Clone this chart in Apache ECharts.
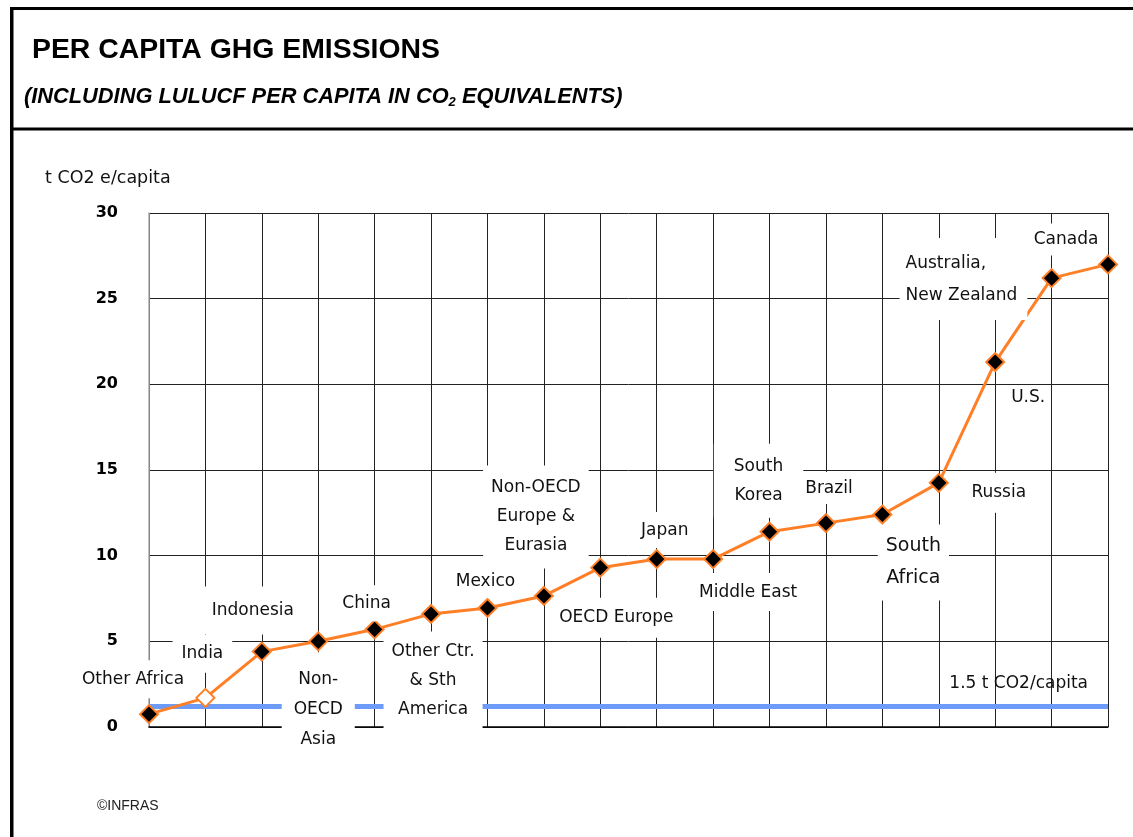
<!DOCTYPE html>
<html>
<head>
<meta charset="utf-8">
<script src="https://cdn.jsdelivr.net/npm/echarts@6/dist/echarts.min.js"></script>
<style>
  html, body { margin: 0; padding: 0; background: #fff; }
  #chart { width: 1133px; height: 837px; }
</style>
</head>
<body>
<div id="chart"></div>
<script>
// regions, left to right
const regions = [
  'Other Africa', 'India', 'Indonesia', 'Non-\nOECD\nAsia', 'China',
  'Other Ctr.\n& Sth\nAmerica', 'Mexico', 'Non-OECD\nEurope &\nEurasia', 'OECD Europe',
  'Japan', 'Middle East', 'South\nKorea', 'Brazil', 'South\nAfrica', 'Russia',
  'U.S.', 'Australia,\nNew Zealand', 'Canada'
];
// t CO2 e per capita
const emissions = [0.75, 1.7, 4.4, 5.0, 5.7, 6.6, 6.95, 7.65, 9.3, 9.8, 9.8, 11.4, 11.9, 12.4, 14.25, 21.3, 26.2, 27.0];
const yTicks = [0, 5, 10, 15, 20, 25, 30];
const thresholdValue = 1.2; // where the "1.5 t" line sits in the picture
const thresholdLabel = '1.5 t CO2/capita';

// label placement: offset of the label box from its point, box padding etc.
const labelLayout = [
  { off: [-16, -35], pad: [9, 6] },
  { off: [-3, -44], pad: [9, 9] },
  { off: [-9, -41], pad: [14, 10] },
  { off: [0, 68], pad: [12, 12], lh: 30 },
  { off: [-8, -26], pad: [8, 8] },
  { off: [2, 67], pad: [6, 8], lh: 29 },
  { off: [-2, -26], pad: [6, 8] },
  { off: [-8, -79], pad: [8, 8], lh: 29 },
  { off: [16, 50], pad: [10, 8] },
  { off: [8, -29], pad: [8, 8] },
  { off: [35, 33], pad: [9, 8] },
  { off: [-11, -51], pad: [8, 20], lh: 29 },
  { off: [3, -35], pad: [6, 8] },
  { off: [31, 48], pad: [6, 8], lh: 32, fs: 19 },
  { off: [60, 10], pad: [10, 8] },
  { off: [33, 36], pad: [2, 4] },
  { off: [-152, 1], pad: [10, 10, 8, 6], lh: 32, align: 'left' },
  { off: [-42, -25], pad: [6, 8] }
];

const orange = '#ff7f27';
const blue = '#6c9cf8';
const labelFont = 'DejaVu Sans';

const seriesData = emissions.map((v, i) => {
  const lay = labelLayout[i];
  const item = {
    value: v,
    label: {
      padding: lay.pad,
      lineHeight: lay.lh || 20,
      fontSize: lay.fs || 17,
      align: lay.align || 'center'
    }
  };
  if (i === 1) {
    // India is drawn as an open diamond
    item.itemStyle = { color: '#fff', borderColor: orange };
  }
  return item;
});

const chart = echarts.init(document.getElementById('chart'));
chart.setOption({
  animation: false,
  backgroundColor: '#fff',
  title: [
    {
      text: 'PER CAPITA GHG EMISSIONS',
      left: 27, top: 31,
      textStyle: { fontFamily: 'Liberation Sans', fontWeight: 'bold', fontSize: 28.4, color: '#000' }
    },
    {
      text: '{t|(INCLUDING LULUCF PER CAPITA IN CO}{s|2}{t| EQUIVALENTS)}',
      left: 19, top: 80,
      textStyle: {
        rich: {
          t: { fontFamily: 'Liberation Sans', fontWeight: 'bold', fontStyle: 'italic', fontSize: 21.8, color: '#000', lineHeight: 24 },
          s: { fontFamily: 'Liberation Sans', fontWeight: 'bold', fontStyle: 'italic', fontSize: 13, color: '#000', lineHeight: 24, verticalAlign: 'bottom', padding: [8, 0, 0, 0] }
        }
      }
    },
    {
      text: 't CO2 e/capita',
      left: 40, top: 164,
      textStyle: { fontFamily: labelFont, fontWeight: 'normal', fontSize: 17.5, color: '#111' }
    },
    {
      text: '©INFRAS',
      left: 92, top: 794,
      textStyle: { fontFamily: 'Liberation Sans', fontWeight: 'normal', fontSize: 14, color: '#222' }
    }
  ],
  graphic: [
    { type: 'rect', shape: { x: 10, y: 7, width: 3.5, height: 840 }, style: { fill: '#000' } },
    { type: 'rect', shape: { x: 10, y: 7, width: 1130, height: 3 }, style: { fill: '#000' } },
    { type: 'rect', shape: { x: 10, y: 127.5, width: 1130, height: 3 }, style: { fill: '#000' } }
  ],
  grid: { left: 149, right: 25, top: 213, bottom: 110, containLabel: false },
  xAxis: {
    type: 'category',
    data: regions,
    boundaryGap: false,
    axisLine: { show: true, lineStyle: { color: '#000', width: 1.5 } },
    axisTick: { show: false },
    axisLabel: { show: false, interval: 0 },
    splitLine: { show: true, interval: 0, lineStyle: { color: '#222', width: 1 } }
  },
  yAxis: {
    type: 'value',
    min: yTicks[0],
    max: yTicks[yTicks.length - 1],
    interval: yTicks[1] - yTicks[0],
    axisLine: { show: true, lineStyle: { color: '#aaa', width: 1.5 } },
    axisTick: { show: false },
    axisLabel: {
      margin: 31, showMinLabel: true,
      fontFamily: labelFont, fontWeight: 'bold', fontSize: 16, color: '#000'
    },
    splitLine: { show: true, lineStyle: { color: '#222', width: 1 } }
  },
  series: [
    {
      type: 'line',
      z: 1,
      data: [],
      silent: true,
      markLine: {
        silent: true,
        symbol: 'none',
        data: [{ yAxis: thresholdValue }],
        lineStyle: { color: blue, width: 5, type: 'solid' },
        label: {
          show: true,
          position: 'insideEndTop',
          distance: [20, 14],
          formatter: thresholdLabel,
          fontFamily: labelFont, fontSize: 17, color: '#111'
        },
        emphasis: { disabled: true }
      }
    },
    {
      type: 'line',
      z: 5,
      data: seriesData,
      symbol: 'diamond',
      symbolSize: 18,
      lineStyle: { color: orange, width: 3 },
      itemStyle: { color: '#000', borderColor: orange, borderWidth: 2 },
      emphasis: { disabled: true },
      label: {
        show: true,
        position: 'inside',
        formatter: (p) => regions[p.dataIndex],
        fontFamily: labelFont,
        fontSize: 17,
        color: '#111',
        backgroundColor: '#fff',
        verticalAlign: 'middle'
      },
      labelLayout: (p) => {
        const lay = labelLayout[p.dataIndex];
        return { dx: lay.off[0], dy: lay.off[1], hideOverlap: false };
      }
    }
  ]
});
</script>
</body>
</html>
